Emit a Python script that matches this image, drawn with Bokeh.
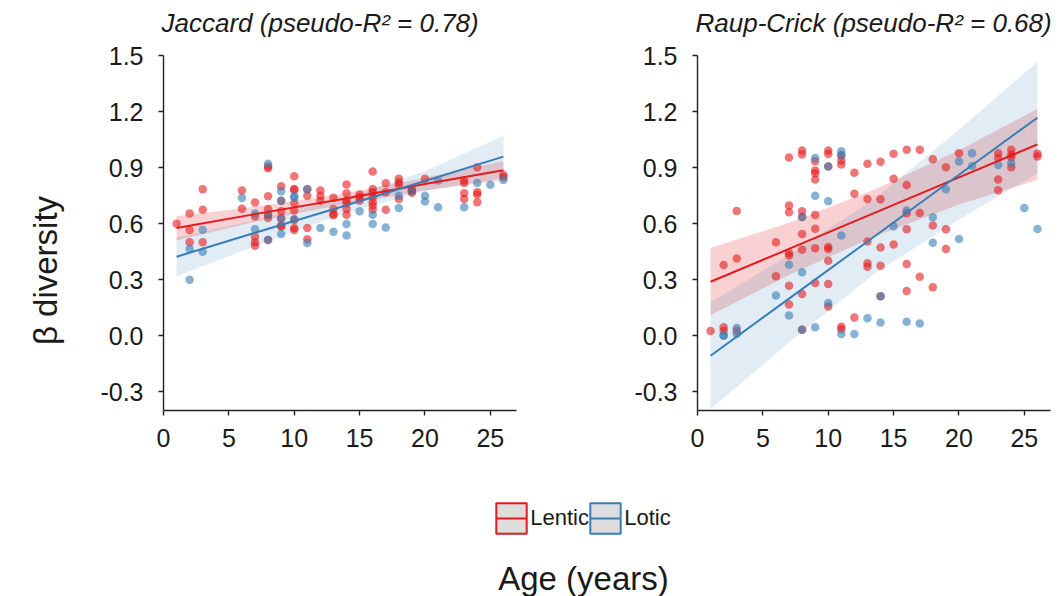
from bokeh.plotting import figure
from bokeh.layouts import row, column
from bokeh.models import Range1d, FixedTicker, PrintfTickFormatter, Legend, LegendItem, Label
from bokeh.embed import file_html
from bokeh.resources import INLINE

RED = "#e41a1c"
BLUE = "#377eb8"
SANS = "Liberation Sans, Arial, sans-serif"

x_ticks = [0, 5, 10, 15, 20, 25]
y_ticks = [-0.3, 0.0, 0.3, 0.6, 0.9, 1.2, 1.5]
groups = ["Lentic", "Lotic"]
titles = ["Jaccard (pseudo-R\u00b2 = 0.78)", "Raup-Crick (pseudo-R\u00b2 = 0.68)"]

# ---------------- Jaccard ----------------
jac_lentic_age = [1, 2, 2, 2, 3, 3, 3, 6, 6, 7, 7, 7, 7, 7,
                  8, 8, 8, 8, 8, 8, 8, 9, 9, 9, 9, 9, 9,
                  10, 10, 10, 10, 10, 10, 10, 10, 11, 11, 11, 11,
                  12, 12, 12, 13, 13, 13, 13, 14, 14, 14, 14, 14, 14,
                  15, 15, 15, 16, 16, 16, 16, 16, 16, 16, 17, 17, 17,
                  18, 18, 18, 18, 19, 19, 19, 20, 23, 23, 23, 23,
                  24, 24, 24, 24, 26, 26]
jac_lentic_beta = [0.60, 0.655, 0.566, 0.50, 0.784, 0.675, 0.50, 0.777, 0.68,
                   0.713, 0.638, 0.53, 0.50, 0.482,
                   0.906, 0.897, 0.747, 0.679, 0.648, 0.63, 0.513,
                   0.80, 0.723, 0.666, 0.63, 0.59, 0.585,
                   0.854, 0.786, 0.78, 0.711, 0.67, 0.62, 0.577, 0.566,
                   0.784, 0.75, 0.577, 0.516,
                   0.777, 0.75, 0.723, 0.738, 0.679, 0.652, 0.645,
                   0.809, 0.763, 0.723, 0.709, 0.679, 0.648,
                   0.756, 0.741, 0.723,
                   0.879, 0.786, 0.768, 0.741, 0.714, 0.697, 0.674,
                   0.816, 0.768, 0.675,
                   0.84, 0.822, 0.808, 0.732, 0.781, 0.775, 0.765, 0.84,
                   0.831, 0.818, 0.763, 0.732,
                   0.902, 0.768, 0.756, 0.714, 0.861, 0.848]
jac_lotic_age = [2, 2, 3, 3, 6, 7, 7, 8, 8, 8, 9, 9, 9, 9, 10, 10, 10, 11, 11,
                 12, 13, 14, 14, 15, 16, 16, 17, 18, 18, 19, 20, 20, 21, 21,
                 23, 24, 25, 26]
jac_lotic_beta = [0.465, 0.30, 0.568, 0.45, 0.738, 0.655, 0.57, 0.92, 0.648, 0.513,
                  0.773, 0.723, 0.625, 0.545, 0.747, 0.74, 0.625, 0.784, 0.497,
                  0.577, 0.557, 0.598, 0.536, 0.666, 0.648, 0.598, 0.58, 0.75, 0.684,
                  0.775, 0.75, 0.718, 0.831, 0.688, 0.688, 0.818, 0.808, 0.834]

# fitted curves and 95% bands
fit_age = [1, 7, 13.5, 20, 26]
jac_lentic_fit = [0.577, 0.651, 0.729, 0.812, 0.886]
jac_lentic_lo = [0.510, 0.610, 0.700, 0.778, 0.833]
jac_lentic_hi = [0.640, 0.690, 0.758, 0.846, 0.936]
jac_lotic_fit = [0.423, 0.551, 0.688, 0.828, 0.959]
jac_lotic_lo = [0.318, 0.480, 0.648, 0.775, 0.845]
jac_lotic_hi = [0.527, 0.620, 0.728, 0.880, 1.070]

# ---------------- Raup-Crick ----------------
rc_lentic_age = [1, 2, 2, 2, 3, 3, 3, 6, 6,
                 7, 7, 7, 7, 7, 7, 7,
                 8, 8, 8, 8, 8, 8, 8, 8,
                 9, 9, 9, 9, 9, 9, 9, 9,
                 10, 10, 10, 10, 10, 10, 10, 10,
                 11, 11, 11, 11, 11, 12, 12, 12,
                 13, 13, 13, 13, 13, 14, 14, 14, 14, 14,
                 15, 15, 15, 16, 16, 16, 16, 16, 16,
                 17, 17, 17, 18, 18, 18, 19, 19, 19, 20,
                 23, 23, 23, 23, 24, 24, 24, 24, 26, 26]
rc_lentic_beta = [0.025, 0.045, 0.027, 0.379, 0.668, 0.414, 0.027, 0.50, 0.318,
                  0.954, 0.697, 0.661, 0.443, 0.429, 0.268, 0.167,
                  0.991, 0.97, 0.666, 0.636, 0.545, 0.461, 0.224, 0.032,
                  0.934, 0.884, 0.87, 0.836, 0.647, 0.573, 0.468, 0.282,
                  0.991, 0.973, 0.906, 0.475, 0.465, 0.402, 0.277, 0.157,
                  0.966, 0.938, 0.916, 0.048, 0.035, 0.872, 0.76, 0.098,
                  0.920, 0.732, 0.505, 0.388, 0.370, 0.931, 0.731, 0.473, 0.375, 0.211,
                  0.974, 0.840, 0.489, 0.995, 0.807, 0.656, 0.570, 0.384, 0.239,
                  0.995, 0.657, 0.316, 0.945, 0.590, 0.259, 0.902, 0.570, 0.465, 0.977,
                  0.977, 0.952, 0.836, 0.779, 0.995, 0.970, 0.956, 0.902, 0.974, 0.959]
rc_lotic_age = [2, 2, 3, 3, 6, 7, 7, 8, 8, 8, 9, 9, 9, 10, 10, 10,
                11, 11, 11, 11, 12, 13, 14, 14, 15, 16, 16, 17, 18, 18, 19,
                20, 20, 21, 21, 23, 24, 25, 26]
rc_lotic_beta = [0.002, 0.0, 0.041, 0.009, 0.216, 0.38, 0.109, 0.636, 0.34, 0.032,
                 0.952, 0.75, 0.045, 0.906, 0.72, 0.175,
                 0.988, 0.966, 0.537, 0.009, 0.009, 0.094, 0.211, 0.071, 0.586,
                 0.670, 0.075, 0.066, 0.634, 0.498, 0.784,
                 0.933, 0.518, 0.977, 0.909, 0.914, 0.925, 0.684, 0.572]

rc_lentic_fit = [0.289, 0.465, 0.656, 0.848, 1.024]
rc_lentic_lo = [0.110, 0.325, 0.530, 0.703, 0.834]
rc_lentic_hi = [0.470, 0.605, 0.782, 0.993, 1.214]
rc_lotic_fit = [-0.107, 0.199, 0.530, 0.862, 1.167]
rc_lotic_lo = [-0.392, -0.036, 0.330, 0.622, 0.867]
rc_lotic_hi = [0.178, 0.434, 0.730, 1.102, 1.467]


def strip(w, h):
    s = figure(frame_width=w, frame_height=h, min_border=0,
               x_range=Range1d(0, w), y_range=Range1d(0, h),
               x_axis_type=None, y_axis_type=None,
               output_backend="svg", toolbar_location=None)
    s.outline_line_color = None
    s.title.visible = False
    return s


def panel(border_left, border_right,
          le_age, le_beta, lo_age, lo_beta,
          le_fit, le_lo, le_hi, lo_fit, lo_lo, lo_hi):
    p = figure(frame_width=353, frame_height=355,
               min_border_left=border_left, min_border_right=border_right,
               min_border_top=17, min_border_bottom=60,
               x_range=Range1d(0, 27), y_range=Range1d(-0.4, 1.5),
               output_backend="svg", toolbar_location=None)
    p.title.visible = False
    p.outline_line_color = None
    p.xgrid.visible = False
    p.ygrid.visible = False

    p.varea(x=fit_age, y1=le_lo, y2=le_hi, fill_color=RED, fill_alpha=0.2)
    p.varea(x=fit_age, y1=lo_lo, y2=lo_hi, fill_color=BLUE, fill_alpha=0.15)
    p.scatter(le_age, le_beta, size=8.5, fill_color=RED, fill_alpha=0.6, line_color=None)
    p.scatter(lo_age, lo_beta, size=8.5, fill_color=BLUE, fill_alpha=0.6, line_color=None)
    p.line(fit_age, le_fit, line_color=RED, line_width=2)
    p.line(fit_age, lo_fit, line_color=BLUE, line_width=2)

    xa = p.xaxis[0]
    ya = p.yaxis[0]
    xa.ticker = FixedTicker(ticks=x_ticks)
    ya.ticker = FixedTicker(ticks=y_ticks)
    ya.formatter = PrintfTickFormatter(format="%.1f")
    for ax in (xa, ya):
        ax.axis_line_color = "#222222"
        ax.axis_line_width = 1.4
        ax.major_tick_line_color = "#222222"
        ax.major_tick_line_width = 1.4
        ax.major_tick_out = 5
        ax.major_tick_in = 0
        ax.minor_tick_line_color = None
        ax.major_label_text_font = SANS
        ax.major_label_text_font_size = "25px"
        ax.major_label_text_color = "#1a1a1a"
    xa.major_label_standoff = 13
    ya.major_label_standoff = 15
    return p


# top strip with panel titles
top = strip(1062, 38)
for t, tx in zip(titles, [161, 695]):
    top.add_layout(Label(x=tx, y=16, text=t, text_align="left", text_baseline="middle",
                         text_font=SANS, text_font_style="italic",
                         text_font_size="26px", text_color="#1a1a1a"))

# left strip with shared y-axis title
left = strip(90, 432)
left.add_layout(Label(x=45, y=217, text="\u03b2 diversity", angle=1.5708,
                      text_align="center", text_baseline="middle",
                      text_font=SANS, text_font_size="33px", text_color="#1a1a1a"))

p1 = panel(73, 24,
           jac_lentic_age, jac_lentic_beta, jac_lotic_age, jac_lotic_beta,
           jac_lentic_fit, jac_lentic_lo, jac_lentic_hi,
           jac_lotic_fit, jac_lotic_lo, jac_lotic_hi)
p2 = panel(157, 12,
           rc_lentic_age, rc_lentic_beta, rc_lotic_age, rc_lotic_beta,
           rc_lentic_fit, rc_lentic_lo, rc_lentic_hi,
           rc_lotic_fit, rc_lotic_lo, rc_lotic_hi)

# bottom strip: legend + shared x-axis title
p3 = strip(1062, 126)

colors = [RED, BLUE]
box_x = [492.2, 586.2]
key_fits = [jac_lentic_fit, jac_lotic_fit]
key_lo = [jac_lentic_lo, jac_lotic_lo]
key_hi = [jac_lentic_hi, jac_lotic_hi]
for g, c, bx, kf, klo, khi in zip(groups, colors, box_x, key_fits, key_lo, key_hi):
    rbox = p3.quad(left=fit_age, right=fit_age, bottom=klo, top=khi,
                   fill_color="#dddddd", line_color=c, line_width=2, visible=False)
    rline = p3.line(x=fit_age, y=kf, line_color=c, line_width=2, visible=False)
    lg = Legend(items=[LegendItem(label=g, renderers=[rbox])],
                location=(bx, 59), orientation="horizontal",
                glyph_width=38, glyph_height=38, label_standoff=-2,
                padding=0, margin=0, spacing=0,
                border_line_alpha=0, background_fill_alpha=0,
                label_text_font=SANS, label_text_font_size="22px",
                label_text_color="#1a1a1a")
    p3.add_layout(lg)
    ll = Legend(items=[LegendItem(label="", renderers=[rline])],
                location=(bx + 4, 59), orientation="horizontal",
                glyph_width=30, glyph_height=38, label_standoff=0,
                padding=0, margin=0, spacing=0,
                border_line_alpha=0, background_fill_alpha=0,
                label_text_font_size="1px")
    p3.add_layout(ll)

p3.add_layout(Label(x=583, y=18, text="Age (years)", text_align="center",
                    text_baseline="middle", text_font=SANS,
                    text_font_size="33px", text_color="#1a1a1a"))

layout = column(top, row(left, p1, p2), p3)
open("out.html", "w").write(file_html(layout, INLINE))
